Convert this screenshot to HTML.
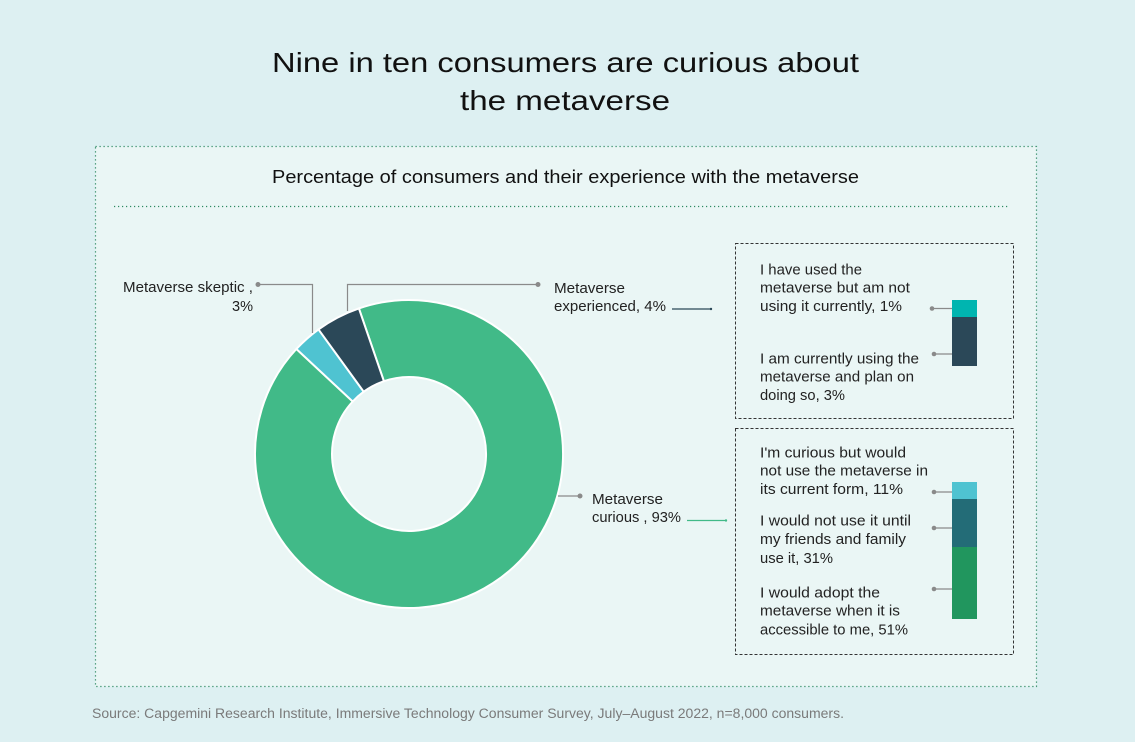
<!DOCTYPE html>
<html><head><meta charset="utf-8"><style>
html,body{margin:0;padding:0;background:#ddf0f2;}
svg{display:block;}
text{font-family:"Liberation Sans",sans-serif;}
</style></head><body>
<svg width="1135" height="742" viewBox="0 0 1135 742" xmlns="http://www.w3.org/2000/svg">
<rect width="1135" height="742" fill="#ddf0f2"/>
<!-- panel -->
<rect x="95.5" y="146.5" width="941" height="540" fill="#eaf6f5"/>
<rect x="95.5" y="146.5" width="941" height="540" fill="none" stroke="#2e8a62" stroke-width="1.2" stroke-dasharray="1.2 2.8"/>
<line x1="114" y1="206.5" x2="1010" y2="206.5" stroke="#2e8a62" stroke-width="1.2" stroke-dasharray="1.2 2.8"/>

<!-- title -->
<text x="272" y="72" font-size="28" fill="#111" textLength="587" lengthAdjust="spacingAndGlyphs">Nine in ten consumers are curious about</text>
<text x="460" y="110" font-size="28" fill="#111" textLength="210" lengthAdjust="spacingAndGlyphs">the metaverse</text>
<text x="272" y="183" font-size="18.5" fill="#111" textLength="587" lengthAdjust="spacingAndGlyphs">Percentage of consumers and their experience with the metaverse</text>

<!-- donut -->
<g stroke="#ffffff" stroke-width="2" stroke-linejoin="miter">
<path d="M358.9,308.4 A154,154 0 1 1 296.4,349 L352.7,401.5 A77,77 0 1 0 383.9,381.2 Z" fill="#41ba88"/>
<path d="M296.4,349 A154,154 0 0 1 318.5,329.4 L363.7,391.7 A77,77 0 0 0 352.7,401.5 Z" fill="#4fc3d1"/>
<path d="M318.5,329.4 A154,154 0 0 1 358.9,308.4 L383.9,381.2 A77,77 0 0 0 363.7,391.7 Z" fill="#2b4858"/>
</g>

<!-- leaders -->
<g stroke="#8a8a8a" stroke-width="1.2" fill="none">
<polyline points="258,284.5 312.5,284.5 312.5,333"/>
<polyline points="347.5,311 347.5,284.5 538,284.5"/>
<line x1="558" y1="496" x2="580" y2="496"/>
</g>
<g fill="#8a8a8a">
<circle cx="258" cy="284.5" r="2.5"/>
<circle cx="538" cy="284.5" r="2.5"/>
<circle cx="580" cy="496" r="2.5"/>
</g>

<!-- labels -->
<g font-size="14.5" fill="#222">
<text x="123" y="292" textLength="130" lengthAdjust="spacingAndGlyphs">Metaverse skeptic ,</text>
<text x="232" y="311" textLength="21" lengthAdjust="spacingAndGlyphs">3%</text>
<text x="554" y="293" textLength="71" lengthAdjust="spacingAndGlyphs">Metaverse</text>
<text x="554" y="311" textLength="112" lengthAdjust="spacingAndGlyphs">experienced, 4%</text>
<text x="592" y="504" textLength="71" lengthAdjust="spacingAndGlyphs">Metaverse</text>
<text x="592" y="522" textLength="89" lengthAdjust="spacingAndGlyphs">curious , 93%</text>
</g>

<!-- arrows -->
<line x1="672" y1="309" x2="711" y2="309" stroke="#2b4858" stroke-width="1.2"/>
<circle cx="711" cy="309" r="1.2" fill="#2b4858"/>
<line x1="687" y1="520.5" x2="726" y2="520.5" stroke="#41ba88" stroke-width="1.2"/>
<circle cx="726" cy="520.5" r="1.2" fill="#41ba88"/>

<!-- boxes -->
<rect x="735.5" y="243.5" width="278" height="175" fill="none" stroke="#333" stroke-width="1" stroke-dasharray="3 2"/>
<rect x="735.5" y="428.5" width="278" height="226" fill="none" stroke="#333" stroke-width="1" stroke-dasharray="3 2"/>

<!-- top bar -->
<rect x="952" y="300" width="25" height="17" fill="#00b5b0"/>
<rect x="952" y="317" width="25" height="49" fill="#2b4858"/>
<!-- bottom bar -->
<rect x="952" y="482" width="25" height="17" fill="#4fc3d1"/>
<rect x="952" y="499" width="25" height="48" fill="#236c77"/>
<rect x="952" y="547" width="25" height="72" fill="#21965e"/>

<g stroke="#8a8a8a" stroke-width="1.2">
<line x1="932" y1="308.5" x2="952" y2="308.5"/>
<line x1="934" y1="354" x2="952" y2="354"/>
<line x1="934" y1="492" x2="952" y2="492"/>
<line x1="934" y1="528" x2="952" y2="528"/>
<line x1="934" y1="589" x2="952" y2="589"/>
</g>
<g fill="#8a8a8a">
<circle cx="932" cy="308.5" r="2.3"/>
<circle cx="934" cy="354" r="2.3"/>
<circle cx="934" cy="492" r="2.3"/>
<circle cx="934" cy="528" r="2.3"/>
<circle cx="934" cy="589" r="2.3"/>
</g>

<g font-size="14.5" fill="#222">
<text x="760" y="274.3" textLength="102" lengthAdjust="spacingAndGlyphs">I have used the</text>
<text x="760" y="292.7" textLength="150" lengthAdjust="spacingAndGlyphs">metaverse but am not</text>
<text x="760" y="311" textLength="142" lengthAdjust="spacingAndGlyphs">using it currently, 1%</text>
<text x="760" y="363.3" textLength="159" lengthAdjust="spacingAndGlyphs">I am currently using the</text>
<text x="760" y="381.7" textLength="154" lengthAdjust="spacingAndGlyphs">metaverse and plan on</text>
<text x="760" y="400" textLength="85" lengthAdjust="spacingAndGlyphs">doing so, 3%</text>

<text x="760" y="457.3" textLength="146" lengthAdjust="spacingAndGlyphs">I'm curious but would</text>
<text x="760" y="475.7" textLength="168" lengthAdjust="spacingAndGlyphs">not use the metaverse in</text>
<text x="760" y="494" textLength="143" lengthAdjust="spacingAndGlyphs">its current form, 11%</text>
<text x="760" y="525.7" textLength="151" lengthAdjust="spacingAndGlyphs">I would not use it until</text>
<text x="760" y="544" textLength="146" lengthAdjust="spacingAndGlyphs">my friends and family</text>
<text x="760" y="563" textLength="73" lengthAdjust="spacingAndGlyphs">use it, 31%</text>
<text x="760" y="597.3" textLength="120" lengthAdjust="spacingAndGlyphs">I would adopt the</text>
<text x="760" y="615.7" textLength="140" lengthAdjust="spacingAndGlyphs">metaverse when it is</text>
<text x="760" y="634.5" textLength="148" lengthAdjust="spacingAndGlyphs">accessible to me, 51%</text>
</g>

<text x="92" y="718" font-size="13.5" fill="#7a7a7a" textLength="752" lengthAdjust="spacingAndGlyphs">Source: Capgemini Research Institute, Immersive Technology Consumer Survey, July–August 2022, n=8,000 consumers.</text>
</svg>
</body></html>
